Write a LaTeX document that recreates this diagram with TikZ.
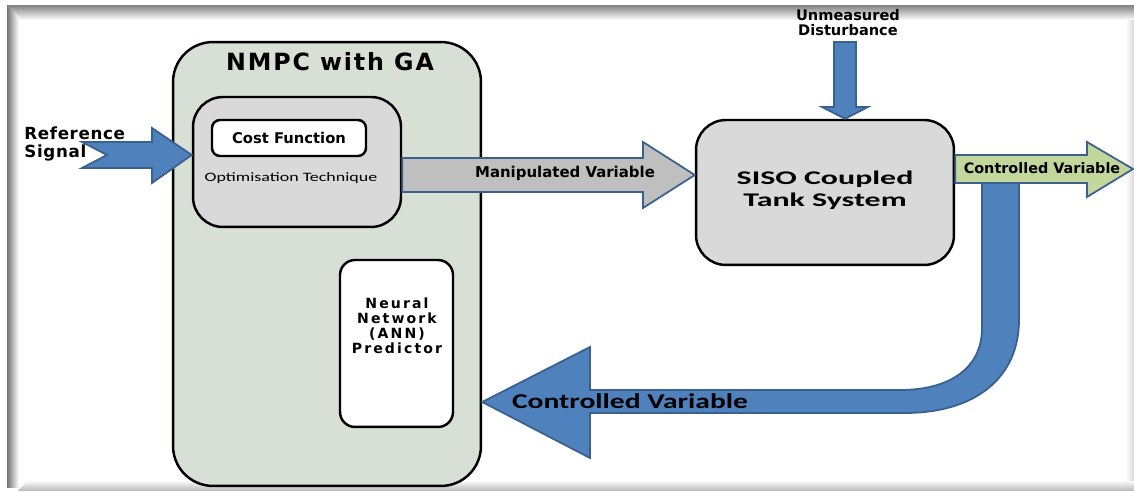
\documentclass[tikz,border=0pt]{standalone}
\usepackage{fontspec}
\setmainfont{DejaVu Sans}
\newfontfamily\calfont{Carlito}[FakeStretch=1.4]
\newfontfamily\widefont{Carlito}[FakeStretch=1.65]
\usepackage{xcolor}
\usetikzlibrary{calc,positioning}

\definecolor{nmpcfill}{RGB}{216,224,214}
\definecolor{boxgray}{RGB}{217,217,217}
\definecolor{arrowblue}{RGB}{79,129,189}
\definecolor{arrowedge}{RGB}{58,96,142}
\definecolor{mvgray}{RGB}{191,191,191}
\definecolor{cvgreen}{RGB}{195,214,155}

\begin{document}
\begin{tikzpicture}[x=0.02cm, y=-0.02cm]
 % We define the styles for the blocks and the block arrows
 \tikzset{
block/.style = {draw, rectangle, line width=1.4pt, fill=boxgray},
lbl/.style = {font=\bfseries, inner sep=0pt},
barrow/.style = {draw=arrowedge, fill=arrowblue, line width=1pt, line join=miter},
}

 % Frame with its soft shadow
 \useasboundingbox (0,0) rectangle (1134,492);
 \fill[white] (0,0) rectangle (1134,492);
 \foreach \i in {0,...,15} {
   \pgfmathtruncatemacro\g{50-\i*3.3}
   \fill[black!\g] (7,5+\i) rectangle (1134,6+\i);
 }
 \foreach \i in {0,...,11} {
   \pgfmathtruncatemacro\g{55-\i*4.7}
   \fill[black!\g] (7+\i,5+\i) rectangle (8+\i,488);
 }
 \foreach \i in {0,...,9} {
   \pgfmathtruncatemacro\g{26-\i*2.6}
   \fill[black!\g] (18+\i,491-\i) rectangle (1134,490-\i);
 }
 \foreach \i in {0,...,7} {
   \pgfmathtruncatemacro\g{14-\i*1.8}
   \fill[black!\g] (1134-\i,20) rectangle (1133-\i,481);
 }

 % NMPC block and the blocks inside it
 \node [block, fill=nmpcfill, rounded corners=0.8cm, minimum width=6.16cm, minimum height=8.88cm] (nmpc) at (327,264) {};
 \node [lbl, font=\fontsize{13.5}{15}\selectfont\bfseries\addfontfeature{LetterSpace=8}] (nmpclabel) at (330,62) {NMPC with GA};
 \node [block, rounded corners=0.6cm, minimum width=4.16cm, minimum height=2.6cm] (opt) at (297,162) {};
 \node [block, fill=white, rounded corners=0.16cm, minimum width=3.08cm, minimum height=0.72cm] (cost) at (289,138) {};
 \node [lbl, font=\fontsize{8.4}{9}\selectfont\bfseries] at (cost) {Cost Function};
 \node [inner sep=0pt, font=\fontsize{7.3}{8}\selectfont\calfont] (optlabel) at (291,178) {Optimisation Technique};
 \node [block, fill=white, rounded corners=0.3cm, minimum width=2.26cm, minimum height=3.34cm] (ann) at (396.5,343.5) {};
 \node [lbl, align=center, anchor=north, font=\fontsize{8}{8.7}\selectfont\bfseries\addfontfeature{LetterSpace=15}] (annlabel) at (397,297) {Neural\\Network\\(ANN)\\Predictor};

 % Plant block
 \node [block, rounded corners=0.6cm, minimum width=5.16cm, minimum height=2.9cm] (plant) at (825,192.5) {};
 \node [lbl, align=center, font=\fontsize{11}{12.5}\selectfont\widefont\bfseries] (plantlabel) at (825,190) {SISO Coupled\\Tank System};

 % Reference signal input
 \coordinate (refin) at (opt.west |- 0,155);
 \draw [barrow] (82,142) -- (152,142) -- (152,128) -- (refin) -- (152,183) -- (152,168) -- (82,168) -- (107,155) -- cycle;
 \node [lbl, align=left, anchor=west, font=\fontsize{9.5}{10}\selectfont\bfseries\addfontfeature{LetterSpace=4}] (reflabel) at (24,144) {Reference\\Signal};

 % Manipulated variable from the optimiser to the plant
 \coordinate (mvout) at (opt.east |- 0,175);
 \coordinate (mvin) at (plant.west |- 0,175);
 \draw [barrow, fill=mvgray] ($(mvout)+(0,-17)$) -- (643,158) -- (643,142) -- (mvin) -- (643,208) -- (643,192) -- ($(mvout)+(0,17)$) -- cycle;
 \node [lbl, font=\fontsize{8.5}{10}\selectfont\bfseries] (mvlabel) at (565,173) {Manipulated Variable};

 % Unmeasured disturbance into the plant
 \coordinate (distin) at (plant.north -| 845,0);
 \draw [barrow] (834,42) -- (856,42) -- (856,107) -- (868,107) -- (distin) -- (822,107) -- (834,107) -- cycle;
 \node [lbl, align=center, font=\fontsize{8.3}{8.5}\selectfont\bfseries] (distlabel) at (848,23) {Unmeasured\\Disturbance};

 % Feedback of the controlled variable
 \coordinate (fbin) at (nmpc.east |- 0,402);
 \draw [barrow] (982,183) -- (982,328) .. controls (982,368) and (950,390) .. (900,390) -- (590,390) -- (590,347) -- (fbin) -- (590,458) -- (590,413) -- (905,413) .. controls (975,413) and (1019,378) .. (1019,320) -- (1019,183) -- cycle;
 \node [lbl, font=\fontsize{12}{14}\selectfont\calfont\bfseries] (fblabel) at (630,401) {Controlled Variable};

 % Controlled variable output
 \coordinate (cvout) at (plant.east |- 0,169);
 \draw [barrow, fill=cvgreen] ($(cvout)+(0,-14)$) -- (1087,155) -- (1087,142) -- (1133,169) -- (1087,197) -- (1087,183) -- ($(cvout)+(0,14)$) -- cycle;
 \node [lbl, font=\fontsize{8.2}{10}\selectfont\bfseries] (cvlabel) at (1042,168) {Controlled Variable};

\end{tikzpicture}
\end{document}
